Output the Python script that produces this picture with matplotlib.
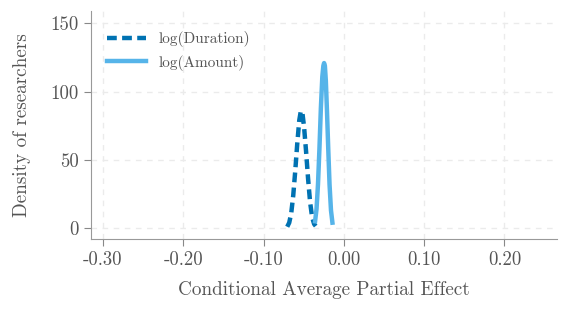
import numpy as np
import matplotlib.pyplot as plt

# values
dur_x = [-0.0705, -0.068, -0.0655, -0.063, -0.0605, -0.058, -0.0555, -0.0535, -0.0515,
         -0.0495, -0.047, -0.0445, -0.042, -0.0395, -0.037, -0.035]
dur_y = [1, 4, 11, 24, 42, 62, 79, 86, 84, 74, 56, 36, 19, 8, 3, 1.5]
amt_x = [-0.0358, -0.034, -0.0322, -0.0304, -0.0286, -0.0268, -0.0255, -0.0246, -0.0236,
         -0.0224, -0.021, -0.0194, -0.0178, -0.016, -0.0142]
amt_y = [5, 14, 32, 58, 88, 111, 119, 121, 119, 108, 86, 58, 32, 13, 4]

xticks = [-0.30, -0.20, -0.10, 0.00, 0.10, 0.20]
yticks = [0, 50, 100, 150]

plt.rcParams['font.family'] = 'cmr10'
plt.rcParams['axes.unicode_minus'] = False
grey = '#555555'

fig, ax = plt.subplots(figsize=(5.68, 3.2), dpi=100)
fig.subplots_adjust(left=0.16, right=0.98, bottom=0.253, top=0.965)

ax.plot(dur_x, dur_y, color='#0072B2', lw=3.2, ls=(0, (2.2, 1.2)), label='log(Duration)')
ax.plot(amt_x, amt_y, color='#56B4E9', lw=3.2, label='log(Amount)')

ax.set_xlim(-0.315, 0.265)
ax.set_ylim(-8, 159)
ax.set_xticks(xticks)
ax.set_xticklabels(['%.2f' % t for t in xticks])
ax.set_yticks(yticks)
ax.grid(True, color='#ebebeb', ls=(0, (4, 4)), lw=1)
ax.set_axisbelow(True)

for s in ['top', 'right']:
    ax.spines[s].set_visible(False)
for s in ['left', 'bottom']:
    ax.spines[s].set_color('#999999')
ax.tick_params(colors='#888888', labelcolor=grey, labelsize=13.5, length=5, direction='out')

ax.set_xlabel('Conditional Average Partial Effect', fontsize=13.8, color=grey, labelpad=9)
ax.set_ylabel('Density of researchers', fontsize=13.8, color=grey, labelpad=14)

leg = ax.legend(loc='upper left', bbox_to_anchor=(-0.009, 1.0), frameon=False, fontsize=11,
                handlelength=2.6, labelcolor=grey, borderaxespad=0.9)

plt.savefig('out.png')
